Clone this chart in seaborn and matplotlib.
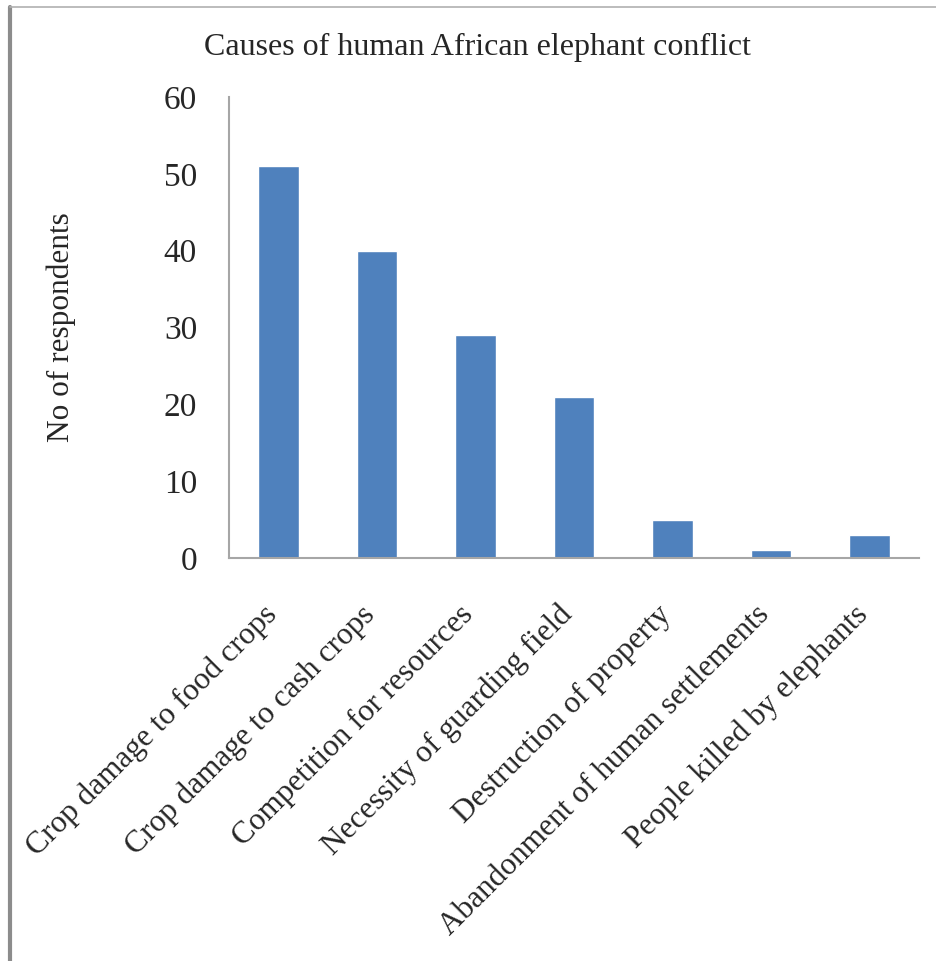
import matplotlib
matplotlib.use("Agg")
import matplotlib.pyplot as plt
import matplotlib.transforms as mtransforms
import seaborn as sns
import pandas as pd
from matplotlib.lines import Line2D

causes = [
    "Crop damage to food crops",
    "Crop damage to cash crops",
    "Competition for resources",
    "Necessity of guarding field",
    "Destruction of property",
    "Abandonment of human settlements",
    "People killed by elephants",
]
respondents = [51, 40, 29, 21, 5, 1, 3]
y_ticks = [0, 10, 20, 30, 40, 50, 60]

sns.set_theme(style="white")
plt.rcParams["font.family"] = ["Liberation Serif", "DejaVu Serif"]

df = pd.DataFrame({"cause": causes, "n": respondents})

fig = plt.figure(figsize=(9.36, 9.61), dpi=100)
ax = fig.add_axes([0.2447, 0.4194, 0.737, 0.4797])

sns.barplot(data=df, x="cause", y="n", color="#4F81BD", saturation=1,
            width=0.41, ax=ax)

ax.set_ylim(0, 60)
ax.set_yticks(y_ticks)
ax.set_yticklabels([str(t) for t in y_ticks], fontsize=24)
ax.set_xlim(-0.5, len(causes) - 0.5)
ax.set_xticks(range(len(causes)))
ax.set_xticklabels(causes, rotation=45, ha="right", va="center",
                   rotation_mode="anchor", fontsize=22.5)
ax.tick_params(axis="y", length=0, pad=23)
ax.tick_params(axis="x", length=0, pad=38)
# nudge the slanted category names slightly left of each bar centre
shift = mtransforms.ScaledTranslation(-6 / 100, 0, fig.dpi_scale_trans)
for lab in ax.get_xticklabels():
    lab.set_transform(lab.get_transform() + shift)
ax.set_xlabel("")
ax.set_ylabel("No of respondents", fontsize=22.5)
ax.yaxis.set_label_coords(-0.222, 0.5)

for side in ("top", "right"):
    ax.spines[side].set_visible(False)
for side in ("left", "bottom"):
    ax.spines[side].set_color("#A6A6A6")
    ax.spines[side].set_linewidth(1.5)

fig.text(0.51, 0.951, "Causes of human African elephant conflict",
         ha="center", va="center", fontsize=23)

# page frame: heavy left rule and light top rule
fig.add_artist(Line2D([0.011, 0.011], [0.0, 0.993], transform=fig.transFigure,
                      color="#8C8C8C", linewidth=3))
fig.add_artist(Line2D([0.011, 1.0], [0.993, 0.993], transform=fig.transFigure,
                      color="#B0B0B0", linewidth=1.2))

fig.savefig("out.png", dpi=100, facecolor="white")
